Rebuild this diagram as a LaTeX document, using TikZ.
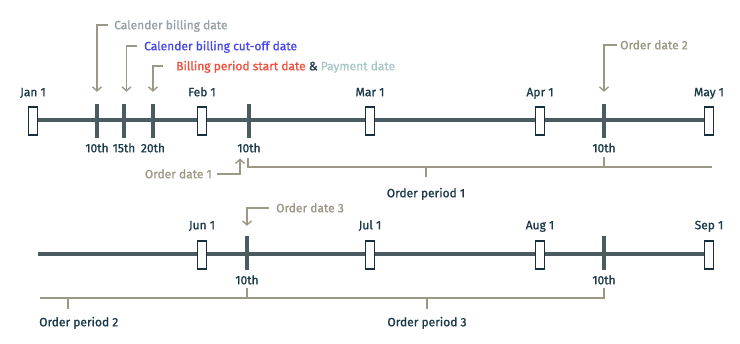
\documentclass[tikz,border=0pt]{standalone}
\usepackage{fontspec}
\setmainfont{Fira Sans}[UprightFeatures={FakeBold=1.2}]
\usetikzlibrary{arrows.meta, positioning, calc}

\definecolor{slate}{RGB}{75,91,98}
\definecolor{boxline}{RGB}{22,48,62}
\definecolor{ink}{RGB}{27,58,74}
\definecolor{khaki}{RGB}{155,152,134}
\definecolor{greytxt}{RGB}{150,160,164}
\definecolor{bluetxt}{RGB}{72,72,232}
\definecolor{redtxt}{RGB}{242,80,60}
\definecolor{paytxt}{RGB}{168,200,200}

\begin{document}
\begin{tikzpicture}[x=1pt, y=-1pt, font=\fontsize{12}{14}\selectfont, >={Straight Barb[length=4pt,width=9pt]},
   datebox/.style={draw=boxline, fill=white, line width=1.2pt, minimum width=9pt, minimum height=28pt, inner sep=0pt},
   daytick/.style={fill=slate, minimum width=4pt, minimum height=34pt, inner sep=0pt},
   datelabel/.style={text=ink, inner sep=0pt, text height=8.5pt, text depth=0pt},
   note/.style={inner sep=0pt, text height=8.5pt, text depth=0pt},
   callout/.style={draw=khaki, line width=1.4pt},
   axis/.style={draw=slate, line width=4.5pt}]
\useasboundingbox (0,0) rectangle (740,344);

% first timeline: Jan - May
\coordinate (s1) at (33,120);
\coordinate (e1) at (709,120);
\draw[axis] (s1) -- (e1);
\foreach \x/\n/\m in {33/jan/Jan 1, 202/feb/Feb 1, 370/mar/Mar 1, 540/apr/Apr 1, 709/may/May 1} {
  \node[datebox] (\n) at (\x,121) {};
  \node[datelabel] (\n-lbl) at (\x,92) {\m};
}
\foreach \x/\n/\d in {97/t10/10th, 124/t15/15th, 153/t20/20th, 249/o1/10th, 604/o2/10th} {
  \node[daytick] (\n) at (\x,121) {};
  \node[datelabel] (\n-lbl) at (\x,148) {\d};
}

% second timeline: Jun - Sep
\coordinate (s2) at (38,254);
\coordinate (e2) at (709,254);
\draw[axis] (s2) -- (e2);
\foreach \x/\n/\m in {202/jun/Jun 1, 370/jul/Jul 1, 540/aug/Aug 1, 709/sep/Sep 1} {
  \node[datebox] (\n) at (\x,255) {};
  \node[datelabel] (\n-lbl) at (\x,225) {\m};
}
\foreach \x/\n/\d in {247/o3/10th, 604/o4/10th} {
  \node[daytick] (\n) at (\x,253) {};
  \node[datelabel] (\n-lbl) at (\x,280) {\d};
}

% callouts
\node[note, anchor=west, text=greytxt] (cbd) at (114,25) {Calender billing date};
\node[note, anchor=west, text=bluetxt] (cut) at (144,46) {Calender billing cut-off date};
\node[note, anchor=west] (bps) at (176,66) {\textcolor{redtxt}{Billing period start date} \textcolor{ink}{\&} \textcolor{paytxt}{Payment date}};
\node[note, anchor=west, text=khaki] (od2) at (620,45) {Order date 2};
\node[note, anchor=east, text=khaki] (od1) at (212,174) {Order date 1};
\node[note, anchor=west, text=khaki] (od3) at (276,208) {Order date 3};

\draw[callout, ->, shorten >=12pt] ([xshift=-6pt]cbd.west) -| (t10.north);
\draw[callout, ->, shorten >=12pt] ([xshift=-7pt]cut.west) -| ([xshift=2.5pt]t15.north);
\draw[callout, ->, shorten >=12pt] ([xshift=-13pt]bps.west) -| (t20.north);
\draw[callout, ->, shorten >=12pt] ([xshift=-3pt]od2.west) -| (o2.north);
\draw[callout, ->] ([xshift=5pt]od1.east) -| ([xshift=-9pt,yshift=-6pt]o1-lbl.south);
\draw[callout, ->, shorten >=10pt] ([xshift=-7pt]od3.west) -| (o3.north);

% order periods
\coordinate (p1end) at (712,167);
\coordinate (p2start) at (40,298);
\node[datelabel] (op1) at (426,193) {Order period 1};
\node[datelabel, anchor=west] (op2) at (39,322) {Order period 2};
\node[datelabel] (op3) at (427,322) {Order period 3};

\draw[callout] ([xshift=-1pt,yshift=-6pt]o1-lbl.south) |- (p1end);
\draw[callout] ([yshift=-5pt]o2-lbl.south) -- (o2-lbl.south |- p1end);
\draw[callout] (op1.north |- p1end) -- ++(0,10);
\draw[callout] (p2start) -| ([yshift=-4pt]o4-lbl.south);
\draw[callout] ([yshift=-4pt]o3-lbl.south) -- (o3-lbl.south |- p2start);
\draw[callout] (68,298) -- ++(0,11);
\draw[callout] (op3.north |- p2start) -- ++(0,11);
\end{tikzpicture}
\end{document}
